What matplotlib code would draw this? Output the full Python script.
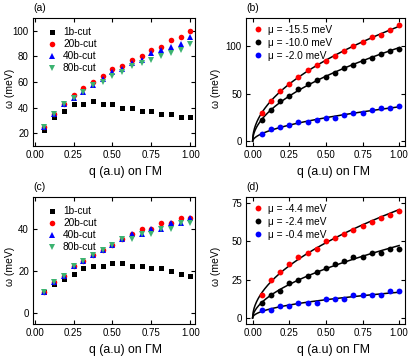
import numpy as np
import matplotlib
matplotlib.use("Agg")
import matplotlib.pyplot as plt

plt.rcParams['font.family'] = ['Liberation Sans', 'DejaVu Sans']

q = np.arange(1, 17) / 16.0

# Panel (a)
a_labels = ["1b-cut", "20b-cut", "40b-cut", "80b-cut"]
a_1b = [22.5, 32.5, 37.5, 42.5, 42.5, 45, 42.5, 42.5, 40, 40, 37.5, 37.5, 35, 35, 32.5, 32.5]
a_20b = [25, 35, 42.5, 50, 55, 60, 65, 70, 72.5, 77.5, 80, 85, 87.5, 92.5, 95, 100]
a_40b = [25, 35, 42.5, 47.5, 52.5, 57.5, 62.5, 67.5, 70, 75, 77.5, 82.5, 85, 87.5, 90, 95]
a_80b = [25, 35, 42.5, 47.5, 52.5, 57.5, 60, 65, 67.5, 72.5, 75, 77.5, 80, 82.5, 85, 90]

# Panel (b)
b_labels = ["μ = -15.5 meV", "μ = -10.0 meV", "μ = -2.0 meV"]
b_s1 = [30, 42.5, 52.5, 60, 67.5, 75, 80, 85, 90, 95, 100, 105, 110, 112.5, 117.5, 122.5]
b_s2 = [22.5, 32.5, 42.5, 47.5, 55, 60, 65, 67.5, 72.5, 77.5, 80, 85, 87.5, 92.5, 95, 97.5]
b_s3 = [7.5, 12.5, 15, 17.5, 20, 20, 22.5, 25, 25, 27.5, 30, 30, 32.5, 35, 35, 37.5]

# Panel (c)
c_1b = [10, 13.75, 16.25, 18.75, 21.25, 22.5, 22.5, 23.75, 23.75, 22.5, 22.5, 21.25, 21.25, 20, 18.75, 17.5]
c_20b = [10, 15, 17.5, 22.5, 25, 27.5, 30, 32.5, 35, 37.5, 40, 40, 42.5, 42.5, 45, 45]
c_40b = [10, 15, 17.5, 22.5, 25, 27.5, 30, 32.5, 35, 37.5, 37.5, 40, 40, 42.5, 42.5, 45]
c_80b = [10, 15, 17.5, 22.5, 25, 27.5, 30, 32.5, 35, 35, 37.5, 37.5, 40, 40, 42.5, 42.5]

# Panel (d)
d_labels = ["μ = -4.4 meV", "μ = -2.4 meV", "μ = -0.4 meV"]
d_s1 = [15, 25, 30, 35, 40, 42.5, 45, 50, 52.5, 55, 57.5, 60, 62.5, 65, 67.5, 70]
d_s2 = [10, 15, 17.5, 22.5, 25, 27.5, 30, 32.5, 35, 37.5, 40, 40, 42.5, 42.5, 45, 45]
d_s3 = [5, 5, 7.5, 7.5, 10, 10, 10, 12.5, 12.5, 12.5, 15, 15, 15, 15, 17.5, 17.5]

RED = "#ff0000"
BLUE = "#0000ff"
GREEN = "#3cb371"
BLACK = "#000000"

W, H = 415, 357
fig = plt.figure(figsize=(W / 100, H / 100), dpi=100)


def ax_at(x0, y0, x1, y1):
    return fig.add_axes([x0 / W, 1 - y1 / H, (x1 - x0) / W, (y1 - y0) / H])


TFS = 7
LFS = 7.3
XFS = 8.8
YFS = 7.5


def style(ax, xlim, ylim, yticks, label, xl_x, yl_x):
    ax.set_xlim(*xlim)
    ax.set_ylim(*ylim)
    ax.set_xticks([0, 0.25, 0.5, 0.75, 1.0])
    ax.set_xticklabels(["0.00", "0.25", "0.50", "0.75", "1.00"])
    ax.set_yticks(yticks)
    ax.tick_params(direction='in', top=True, right=True, length=3, width=0.8,
                   labelsize=TFS, pad=3)
    for s in ax.spines.values():
        s.set_linewidth(0.8)
    ax.set_xlabel("q (a.u) on ΓM", fontsize=XFS)
    ax.xaxis.set_label_coords(xl_x, -0.155)
    ax.set_ylabel("ω (meV)", fontsize=YFS)
    ax.yaxis.set_label_coords(yl_x, 0.45)
    ax.text(0.0, 1.04, label, transform=ax.transAxes, fontsize=7.5,
            ha='left', va='bottom')


def cut_panel(ax, s1, s2, s3, s4):
    ms = 3.6
    ax.plot(q, s1, 's', color=BLACK, ms=ms, mew=0, label=a_labels[0])
    ax.plot(q, s2, 'o', color=RED, ms=ms + 0.4, mew=0, label=a_labels[1])
    ax.plot(q, s3, '^', color=BLUE, ms=ms + 0.6, mew=0, label=a_labels[2])
    ax.plot(q, s4, 'v', color=GREEN, ms=ms + 0.6, mew=0, label=a_labels[3])
    ax.legend(loc='upper left', frameon=False, fontsize=LFS, handlelength=1.0,
              handletextpad=0.6, labelspacing=0.2, borderaxespad=0.0,
              bbox_to_anchor=(0.06, 0.96))


def fit_panel(ax, series, labels):
    colors = [RED, BLACK, BLUE]
    qq = np.linspace(0, 1, 300)
    for s, c, lab in zip(series, colors, labels):
        p, la = np.polyfit(np.log(q), np.log(s), 1)
        ax.plot(qq, np.exp(la) * qq ** p, '-', color='black', lw=1.1, zorder=2)
        ax.plot(q, s, 'o', color=c, ms=4.2, mew=0, label=lab, zorder=3)
    h, l = ax.get_legend_handles_labels()
    ax.legend(h, l, loc='upper left', frameon=False, fontsize=LFS, handlelength=1.0,
              handletextpad=0.5, labelspacing=0.3, borderaxespad=0.0,
              bbox_to_anchor=(0.02, 0.98))


axa = ax_at(33, 18, 195, 146)
cut_panel(axa, a_1b, a_20b, a_40b, a_80b)
style(axa, (-0.01, 1.03), (10, 110), [20, 40, 60, 80, 100], "(a)", 0.57, -0.11)

axb = ax_at(246, 18, 405, 146)
fit_panel(axb, [b_s1, b_s2, b_s3], b_labels)
style(axb, (-0.045, 1.04), (-5, 130), [0, 50, 100], "(b)", 0.55, -0.16)

axc = ax_at(33, 197, 195, 324)
cut_panel(axc, c_1b, c_20b, c_40b, c_80b)
style(axc, (-0.01, 1.03), (-5, 55), [0, 20, 40], "(c)", 0.57, -0.11)

axd = ax_at(246, 197, 405, 324)
fit_panel(axd, [d_s1, d_s2, d_s3], d_labels)
style(axd, (-0.045, 1.04), (-4, 79), [0, 25, 50, 75], "(d)", 0.55, -0.16)

fig.savefig("out.png", dpi=100)
